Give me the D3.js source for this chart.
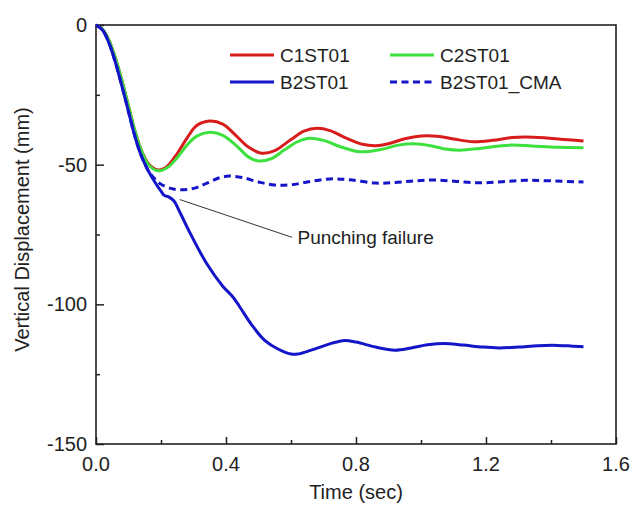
<!DOCTYPE html>
<html>
<head>
<meta charset="utf-8">
<script src="https://cdn.jsdelivr.net/npm/d3@7"></script>
<style>
  body { margin: 0; background: #fff; }
  text { font-family: "Liberation Sans", Arial, sans-serif; fill: #222; }
</style>
</head>
<body>
<div id="chart"></div>
<script>
// series (time in sec, displacement in mm)
const c1Time = [0, 0.02, 0.04, 0.06, 0.08, 0.10, 0.12, 0.14, 0.16, 0.18, 0.20, 0.22, 0.25, 0.28, 0.31, 0.35, 0.39, 0.43, 0.47, 0.51, 0.55, 0.60, 0.64, 0.68, 0.72, 0.77, 0.82, 0.86, 0.90, 0.95, 1.00, 1.05, 1.10, 1.16, 1.22, 1.28, 1.32, 1.38, 1.44, 1.50];
const c1Disp = [0, -1.5, -5.5, -12, -20, -29, -38, -45, -49.5, -51.5, -51.8, -50.5, -46, -40.5, -36, -34.4, -35.5, -39.5, -43.8, -45.9, -45, -41, -38, -37, -37.8, -40.5, -42.7, -43.2, -42.5, -40.7, -39.7, -39.8, -40.8, -41.8, -41.3, -40.3, -40.1, -40.4, -41.0, -41.5];

const c2Time = [0, 0.02, 0.04, 0.06, 0.08, 0.10, 0.12, 0.14, 0.16, 0.19, 0.22, 0.25, 0.28, 0.31, 0.35, 0.39, 0.43, 0.47, 0.50, 0.54, 0.58, 0.62, 0.65, 0.70, 0.75, 0.80, 0.83, 0.88, 0.93, 0.98, 1.03, 1.08, 1.12, 1.18, 1.24, 1.28, 1.34, 1.42, 1.50];
const c2Disp = [0, -1.5, -5.5, -12, -20, -29, -38, -45, -49.8, -52.2, -51, -47.5, -43, -39.8, -38.4, -39.5, -43, -47.3, -48.7, -47.8, -44.7, -41.8, -40.6, -41.3, -43.5, -45.2, -45.4, -44.5, -43, -42.5, -43.2, -44.5, -44.8, -44.2, -43.3, -43.0, -43.3, -43.8, -43.9];

const b2Time = [0, 0.02, 0.04, 0.06, 0.08, 0.10, 0.12, 0.14, 0.16, 0.18, 0.20, 0.21, 0.225, 0.24, 0.26, 0.29, 0.34, 0.39, 0.42, 0.44, 0.48, 0.52, 0.56, 0.60, 0.62, 0.66, 0.71, 0.76, 0.80, 0.86, 0.92, 0.97, 1.02, 1.07, 1.13, 1.19, 1.24, 1.30, 1.36, 1.42, 1.46, 1.50];
const b2Disp = [0, -1.8, -6.5, -13.5, -22, -31, -40, -47, -52, -56, -59.5, -61, -61.6, -63, -67.5, -74.6, -85.3, -93.5, -97.2, -100.5, -107.5, -113, -116, -117.8, -117.8, -116.5, -114.5, -113, -113.5, -115.3, -116.4, -115.6, -114.5, -114, -114.6, -115.3, -115.6, -115.3, -114.8, -114.7, -114.9, -115.2];

const cmaTime = [0, 0.02, 0.04, 0.06, 0.08, 0.10, 0.12, 0.14, 0.16, 0.18, 0.20, 0.23, 0.26, 0.30, 0.34, 0.38, 0.41, 0.45, 0.50, 0.55, 0.60, 0.66, 0.72, 0.78, 0.86, 0.92, 0.98, 1.04, 1.11, 1.18, 1.25, 1.32, 1.40, 1.50];
const cmaDisp = [0, -1.8, -6.5, -13.5, -22, -31, -40, -47, -52, -55, -57, -58.5, -59, -58.5, -56.7, -54.7, -54.1, -54.6, -56.2, -57.3, -57.2, -56, -55.1, -55.4, -56.6, -56.4, -55.8, -55.5, -56, -56.5, -56.1, -55.6, -55.8, -56.2];

const seriesNames = ["C1ST01", "C2ST01", "B2ST01", "B2ST01_CMA"];
const seriesColors = ["#d81c1c", "#3ee03e", "#1414c8", "#1414c8"];
const xTicks = [0, 0.4, 0.8, 1.2, 1.6];
const yTicks = [0, -50, -100, -150];

const series = [
  {name: seriesNames[0], color: seriesColors[0], dash: null, t: c1Time, v: c1Disp},
  {name: seriesNames[1], color: seriesColors[1], dash: null, t: c2Time, v: c2Disp},
  {name: seriesNames[2], color: seriesColors[2], dash: null, t: b2Time, v: b2Disp},
  {name: seriesNames[3], color: seriesColors[3], dash: "7,4.5", t: cmaTime, v: cmaDisp}
];

const W = 632, H = 507;
const margin = {top: 25, right: 16, bottom: 63, left: 96};
const width = W - margin.left - margin.right,
      height = H - margin.top - margin.bottom;

const svg = d3.select("#chart")
  .append("svg")
    .attr("width", W)
    .attr("height", H)
  .append("g")
    .attr("transform", `translate(${margin.left},${margin.top})`);

const x = d3.scaleLinear().domain([0, 1.6]).range([0, width]);
const y = d3.scaleLinear().domain([-150, 0]).range([height, 0]);

// minor ticks
svg.append("g")
  .attr("transform", `translate(0,${height})`)
  .call(d3.axisTop(x).tickValues([0.2, 0.6, 1.0, 1.4]).tickSize(4).tickFormat(""))
  .call(g => g.select(".domain").remove())
  .selectAll("line").attr("stroke", "#222").attr("stroke-width", 1.5);
svg.append("g")
  .call(d3.axisRight(y).tickValues([-25, -75, -125]).tickSize(4).tickFormat(""))
  .call(g => g.select(".domain").remove())
  .selectAll("line").attr("stroke", "#222").attr("stroke-width", 1.5);

// major ticks, inward
const xAxis = svg.append("g")
  .attr("transform", `translate(0,${height})`)
  .call(d3.axisTop(x).tickValues(xTicks).tickSize(7).tickFormat(""));
xAxis.select(".domain").remove();
xAxis.selectAll("line").attr("stroke", "#222").attr("stroke-width", 1.5);

const yAxis = svg.append("g")
  .call(d3.axisRight(y).tickValues(yTicks).tickSize(8).tickFormat(""));
yAxis.select(".domain").remove();
yAxis.selectAll("line").attr("stroke", "#222").attr("stroke-width", 1.5);

// tick labels
svg.append("g").selectAll("text")
  .data(xTicks)
  .enter().append("text")
    .attr("x", d => x(d))
    .attr("y", height + 27)
    .attr("text-anchor", "middle")
    .attr("font-size", "20px")
    .text(d => d3.format(".1f")(d));

svg.append("g").selectAll("text")
  .data(yTicks)
  .enter().append("text")
    .attr("x", -9)
    .attr("y", d => y(d))
    .attr("dy", "0.35em")
    .attr("text-anchor", "end")
    .attr("font-size", "20px")
    .text(d => d);

// frame
svg.append("rect")
  .attr("width", width)
  .attr("height", height)
  .attr("fill", "none")
  .attr("stroke", "#222")
  .attr("stroke-width", 1.6);

// axis titles
svg.append("text")
  .attr("x", width / 2)
  .attr("y", height + 55)
  .attr("text-anchor", "middle")
  .attr("font-size", "20px")
  .text("Time (sec)");

svg.append("text")
  .attr("transform", `translate(${-67},${height / 2 - 5})rotate(-90)`)
  .attr("text-anchor", "middle")
  .attr("font-size", "20px")
  .text("Vertical Displacement (mm)");

// lines
const line = d3.line()
  .x(d => x(d[0]))
  .y(d => y(d[1]))
  .curve(d3.curveCatmullRom.alpha(0.5));

series.forEach(s => {
  svg.append("path")
    .datum(s.t.map((t, i) => [t, s.v[i]]))
    .attr("fill", "none")
    .attr("stroke", s.color)
    .attr("stroke-width", 3)
    .attr("stroke-dasharray", s.dash)
    .attr("stroke-linejoin", "round")
    .attr("d", line);
});

// annotation
svg.append("line")
  .attr("x1", x(0.258)).attr("y1", y(-62.5))
  .attr("x2", x(0.603)).attr("y2", y(-76))
  .attr("stroke", "#333")
  .attr("stroke-width", 1);
svg.append("text")
  .attr("x", x(0.62))
  .attr("y", y(-78.5))
  .attr("font-size", "19px")
  .text("Punching failure");

// legend
const legendPos = [
  {lx: 134, ly: 30},
  {lx: 294, ly: 30},
  {lx: 134, ly: 57},
  {lx: 294, ly: 57}
];
const legend = svg.append("g");
series.forEach((s, i) => {
  const p = legendPos[i];
  legend.append("line")
    .attr("x1", p.lx).attr("x2", p.lx + 44)
    .attr("y1", p.ly).attr("y2", p.ly)
    .attr("stroke", s.color)
    .attr("stroke-width", 3)
    .attr("stroke-dasharray", s.dash);
  legend.append("text")
    .attr("x", p.lx + 50)
    .attr("y", p.ly)
    .attr("dy", "0.35em")
    .attr("font-size", "19px")
    .text(s.name);
});
</script>
</body>
</html>
